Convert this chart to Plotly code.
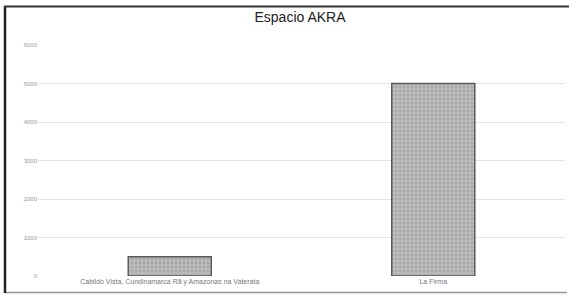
import plotly.graph_objects as go

categories = ["Cabildo Vista, Cundinamarca Rã y Amazonas na Vaterata", "La Firma"]
values = [500, 5000]
tick_values = [0, 1000, 2000, 3000, 4000, 5000, 6000]
tick_labels = ["0", "1000", "2000", "3000", "4000", "5000", "6000"]
title = "Espacio AKRA"

W, H = 569, 297
ML, MR, MT, MB = 38, 4, 45, 21
pw, ph = W - ML - MR, H - MT - MB

def px(x):
    return (x - ML) / pw

def py(y):
    return (H - MB - y) / ph

fig = go.Figure()
fig.add_trace(go.Bar(
    x=categories, y=values,
    marker=dict(color="#b0b0b0", line=dict(color="#5a5a5a", width=1.5),
                pattern=dict(shape=".", fgcolor="#909090", bgcolor="#bababa", size=4, solidity=0.3)),
    width=0.315,
))

fig.update_layout(
    width=W, height=H,
    margin=dict(l=ML, r=MR, t=MT, b=MB),
    paper_bgcolor="white", plot_bgcolor="white",
    title=dict(text=title, x=px(300), xanchor="center", y=1 - 17 / H, yanchor="middle",
               xref="paper",
               font=dict(family="Liberation Sans, Arial", size=14, color="#222")),
    showlegend=False,
    xaxis=dict(showgrid=False, showline=False, ticks="",
               tickfont=dict(family="Liberation Sans, Arial", size=7, color="#777")),
    yaxis=dict(range=[0, 6000], tickvals=tick_values, ticktext=tick_labels,
               showgrid=True, gridcolor="#e4e4e4", gridwidth=1, zeroline=False,
               showline=False, ticks="",
               tickfont=dict(family="Liberation Sans, Arial", size=6, color="#999")),
    font=dict(family="Liberation Sans, Arial"),
)

# scanned frame around the chart
fig.add_shape(type="line", xref="paper", yref="paper", x0=px(4), x1=px(567), y0=py(292.5), y1=py(292.5),
              line=dict(color="#999", width=1.5))
fig.add_shape(type="line", xref="paper", yref="paper", x0=px(5), x1=px(5), y0=py(6), y1=py(293),
              line=dict(color="#222", width=2.5))
fig.add_shape(type="line", xref="paper", yref="paper", x0=px(4), x1=px(569), y0=py(6.5), y1=py(6.5),
              line=dict(color="#333", width=2))

fig.write_html("out.html", config={"displayModeBar": False},
               post_script="document.body.style.margin='0';document.body.style.overflow='hidden';")
